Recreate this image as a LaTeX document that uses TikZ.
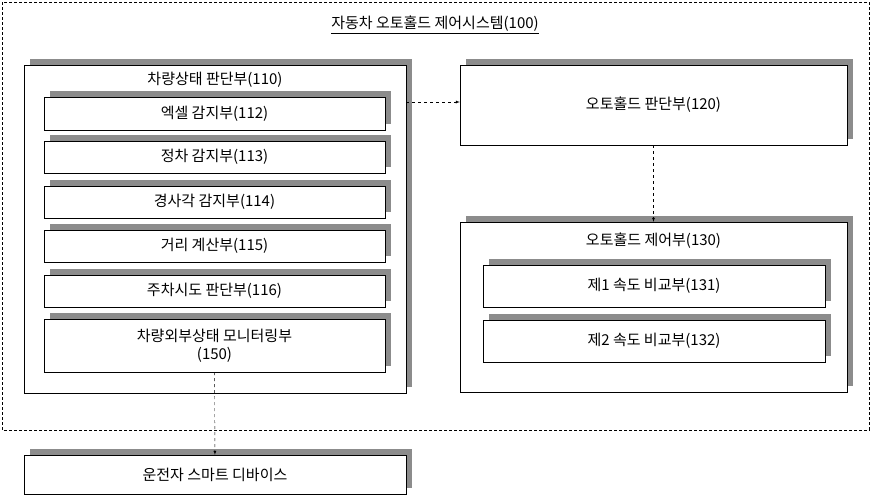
\documentclass[tikz,border=0pt]{standalone}
\usepackage{fontspec}
\setmainfont{Noto Sans CJK KR}
\usetikzlibrary{positioning}
\tikzset{
  blk/.style={draw, fill=white, inner sep=0pt, font=\fontsize{15}{18}\selectfont,
    preaction={fill=black!45, transform canvas={shift={(6pt,6pt)}}}},
  link/.style={draw, dashed, -latex}
}
\begin{document}
\begin{tikzpicture}[x=1pt,y=-1pt]
        \useasboundingbox (0,0) rectangle (872,499);
        \draw[densely dashed] (2,2) rectangle (869,430);
        \node (sys) at (435,25) {\fontsize{15}{18}\selectfont\underline{자동차 오토홀드 제어시스템(100)}};

        % left group
        \node[blk, minimum width=382, minimum height=328] (judge) at (215,229) {};
        \node[font=\fontsize{15}{18}\selectfont] (judgelbl) at (215,80) {차량상태 판단부(110)};
        \node[blk, minimum width=341, minimum height=33] (accel) at (214.5,113.5) {엑셀 감지부(112)};
        \node[blk, minimum width=341, minimum height=32] (stop) at (214.5,157) {정차 감지부(113)};
        \node[blk, minimum width=341, minimum height=32] (slope) at (214.5,202) {경사각 감지부(114)};
        \node[blk, minimum width=341, minimum height=32] (dist) at (214.5,246) {거리 계산부(115)};
        \node[blk, minimum width=341, minimum height=32] (park) at (214.5,291) {주차시도 판단부(116)};
        \node[blk, minimum width=341, minimum height=53, align=center] (mon) at (214.5,345.5) {차량외부상태 모니터링부\\(150)};

        % right group
        \node[blk, minimum width=387, minimum height=80] (hold) at (653.5,105) {오토홀드 판단부(120)};
        \node[blk, minimum width=387, minimum height=170] (ctrl) at (653.5,307) {};
        \node[font=\fontsize{15}{18}\selectfont] (ctrllbl) at (653.5,241) {오토홀드 제어부(130)};
        \node[blk, minimum width=342, minimum height=42] (cmp1) at (654,286) {제1 속도 비교부(131)};
        \node[blk, minimum width=342, minimum height=42] (cmp2) at (654,341) {제2 속도 비교부(132)};

        % driver device
        \node[blk, minimum width=382, minimum height=39] (phone) at (215,474.5) {운전자 스마트 디바이스};

        \draw[link] (judge.east |- 0,102) -- (hold.west |- 0,102);
        \draw[link] (hold) -- (ctrl);
        \draw[link] (mon) -- (phone);
\end{tikzpicture}
\end{document}
